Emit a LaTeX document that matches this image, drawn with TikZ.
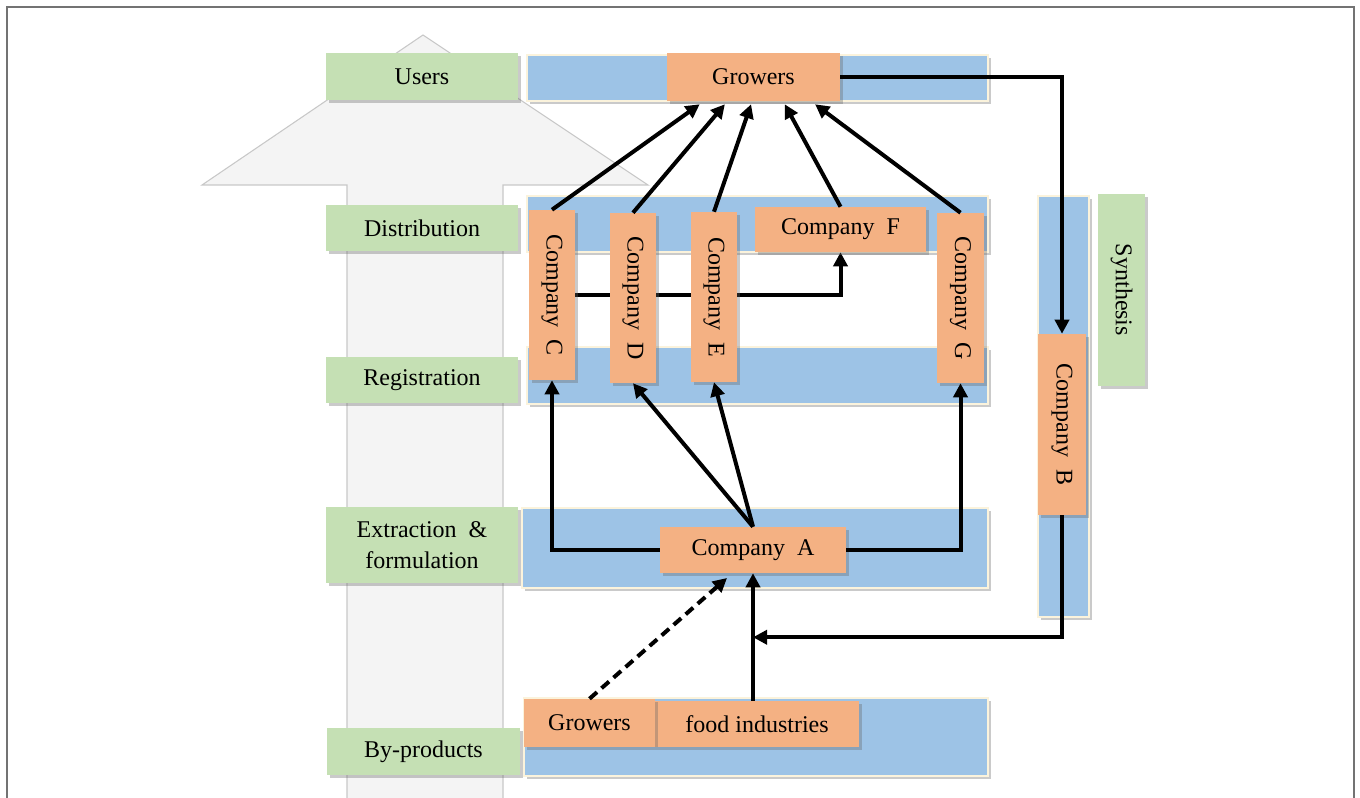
\documentclass[tikz,border=0pt]{standalone}
\usepackage{fontspec}
\setmainfont{Liberation Serif}
\usetikzlibrary{arrows.meta,shadows,fit,calc}
\pgfdeclarelayer{bg}
\pgfdeclarelayer{mid}
\pgfdeclarelayer{front}
\pgfsetlayers{bg,mid,main,front}
\definecolor{lgreen}{HTML}{C5E0B4}
\definecolor{lblue}{HTML}{9DC3E6}
\definecolor{lorange}{HTML}{F4B183}
\definecolor{arrowfill}{HTML}{F4F4F4}
\definecolor{arrowline}{HTML}{C8C8C8}
\definecolor{bandedge}{HTML}{FBF3DC}
\begin{document}
\begin{tikzpicture}[x=0.75pt,y=-0.75pt,
  font=\fontsize{18}{23}\selectfont,
  shad/.style={drop shadow={shadow xshift=2pt,shadow yshift=-2pt,opacity=0.35,fill=black!60}},
  gbox/.style={fill=lgreen, shad, inner sep=0pt},
  bband/.style={fill=lblue, draw=bandedge, line width=0.8pt, shad, inner sep=0pt},
  obox/.style={fill=lorange, shad, inner sep=0pt},
  txt/.style={label={[align=center, inner sep=0pt]center:#1}},
  conn/.style={line width=3pt, -{Triangle[length=10.5pt,width=10.5pt]}},
  dconn/.style={conn, dash pattern=on 7.5pt off 4.5pt}
]
\useasboundingbox (0,0) rectangle (1360,798);
\clip (0,0) rectangle (1360,798);

\begin{pgfonlayer}{bg}
  \draw[line width=1.5pt, black!55] (7,7) rectangle (1354,830);
  \draw[fill=arrowfill, draw=arrowline, line width=0.8pt]
    (423,35) -- (648,185) -- (503,185) -- (503,830) -- (347,830) -- (347,185) -- (202,185) -- cycle;
  % blue bands
  \node[bband, fit={(527,55)(988,101)}] (bandU) {};
  \node[bband, fit={(527,196)(988,252)}] (bandD) {};
  \node[bband, fit={(527,347)(988,404)}] (bandR) {};
  \node[bband, fit={(522,508)(988,588)}] (bandE) {};
  \node[bband, fit={(524,698)(988,776)}] (bandP) {};
  \node[bband, fit={(1038,196)(1089,617)}] (bandS) {};
\end{pgfonlayer}

% green labels
\node[gbox, fit={(326,53)(518,100)}, txt={Users}] (users) {};
\node[gbox, fit={(326,205)(518,251)}, txt={Distribution}] (distr) {};
\node[gbox, fit={(326,357)(518,403)}, txt={Registration}] (regis) {};
\node[gbox, fit={(326,507)(518,583)}, txt={Extraction~~\&\\formulation}] (extra) {};
\node[gbox, fit={(327,728)(520,775)}, txt={By-products}] (bypro) {};
\node[gbox, fit={(1098,194)(1145,386)}, txt={\rotatebox{-90}{Synthesis}}] (synth) {};

% orange company boxes
\node[obox, fit={(667,53)(840,101)}, txt={Growers}] (grow) {};
\node[obox, fit={(529,210)(575,380)}, txt={\rotatebox{-90}{Company~~C}}] (C) {};
\node[obox, fit={(610,213)(656,383)}, txt={\rotatebox{-90}{Company~~D}}] (D) {};
\node[obox, fit={(691,212)(737,382)}, txt={\rotatebox{-90}{Company~~E}}] (E) {};
\node[obox, fit={(755,207)(926,252)}, txt={Company~~F}] (F) {};
\node[obox, fit={(937,213)(984,383)}, txt={\rotatebox{-90}{Company~~G}}] (G) {};
\node[obox, fit={(660,527)(846,573)}, txt={Company~~A}] (A) {};
\node[obox, fit={(1038,334)(1086,515)}, txt={\rotatebox{-90}{Company~~B}}] (B) {};
\node[obox, fit={(655,701)(859,747)}, txt={food industries}] (food) {};
\node[obox, fit={(524,699)(655,747)}, txt={Growers}] (growb) {};

\coordinate (jn) at ($(A.south)+(0,64)$);
\coordinate (dtip) at (727,578);

% connector passing behind D and E
\begin{pgfonlayer}{mid}
  \draw[conn] (C.east) -| (F.south);
\end{pgfonlayer}

\begin{pgfonlayer}{front}
  \draw[conn] (C.north) -- ($(grow.south west)!0.19!(grow.south east)+(0,3)$);
  \draw[conn] (D.north) -- ($(grow.south west)!0.335!(grow.south east)+(0,3)$);
  \draw[conn] (E.north) -- ($(grow.south west)!0.486!(grow.south east)+(0,3)$);
  \draw[conn] (F.north) -- ($(grow.south west)!0.68!(grow.south east)+(0,3)$);
  \draw[conn] (G.north) -- ($(grow.south west)!0.855!(grow.south east)+(0,3)$);
  \draw[conn] (A.west) -| (C.south);
  \draw[conn] (A.east) -| (G.south);
  \draw[conn] (A.north) -- (D.south);
  \draw[conn] (A.north) -- (E.south);
  \draw[conn] (grow.east) -| (B.north);
  \draw[conn] (B.south) |- (jn);
  \draw[conn] (food.north -| A.south) -- (A.south);
  \draw[dconn] (growb.north) -- (dtip);
\end{pgfonlayer}
\end{tikzpicture}
\end{document}
